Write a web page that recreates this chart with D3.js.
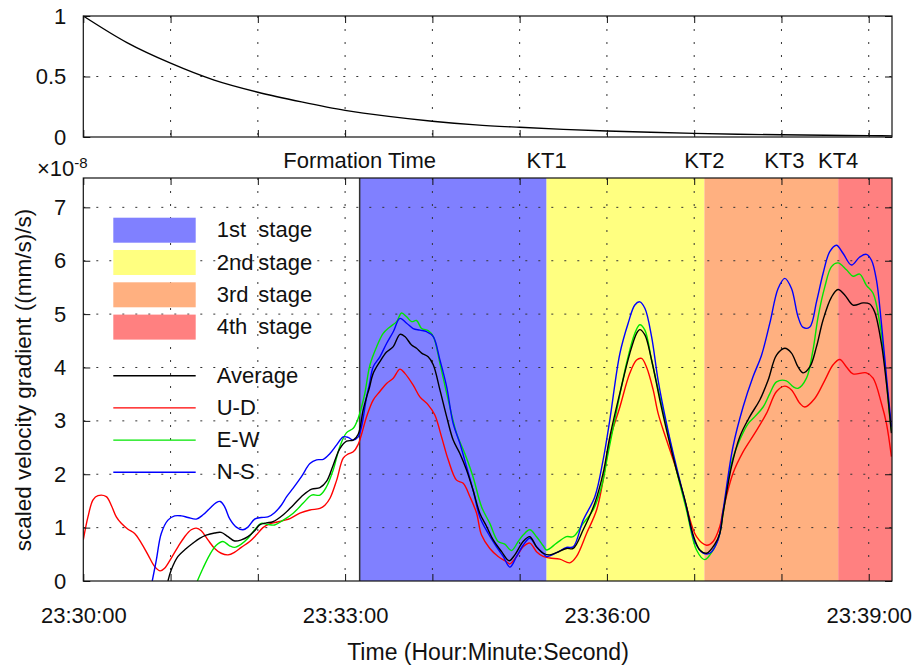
<!DOCTYPE html>
<html>
<head>
<meta charset="utf-8">
<script src="https://cdn.jsdelivr.net/npm/d3@7"></script>
<style>
body { margin: 0; background: #fff; }
text { font-family: "Liberation Sans", Arial, sans-serif; fill: #111; }
</style>
</head>
<body>
<script>
// time in seconds after 23:30:00
var timeTicks = [0, 180, 360, 540];
var timeLabels = ['23:30:00', '23:33:00', '23:36:00', '23:39:00'];
var minuteTicks = [0, 60, 120, 180, 240, 300, 360, 420, 480, 540];

var eventLabels = ['Formation Time', 'KT1', 'KT2', 'KT3', 'KT4'];
var eventTimes = [190, 318.5, 427, 482, 519];

var stageNames = ['1st', '2nd', '3rd', '4th'];
var stageStart = [190, 318.5, 427, 519];
var stageEnd = [318.5, 427, 519, 556];

var decayTimes = [0, 30, 60, 90, 120, 150, 180, 210, 240, 270, 300, 330, 360, 390, 420, 450, 480, 510, 540, 556];
var decayValues = [1, 0.78, 0.61, 0.47, 0.37, 0.29, 0.22, 0.17, 0.13, 0.10, 0.08, 0.063, 0.05, 0.039, 0.03, 0.023, 0.018, 0.014, 0.011, 0.009];

var seriesNames = ['Average', 'U-D', 'E-W', 'N-S'];

var avgSeries = [[58.2,0],[60.5,0.21],[65.1,0.46],[70.8,0.61],[75.4,0.71],[80.0,0.80],[84.5,0.86],[90.3,0.90],[94.8,0.91],[99.5,0.83],[104.1,0.75],[108.6,0.77],[113.2,0.83],[117.8,0.94],[121.2,1.05],[125.8,1.09],[130.4,1.11],[137.5,1.24],[144.3,1.42],[151.2,1.61],[157.0,1.72],[162.7,1.75],[167.3,1.87],[171.8,2.17],[176.4,2.48],[181.0,2.62],[185.6,2.64],[189.0,2.75],[192.4,3.2],[194.8,3.45],[196.6,3.61],[199.3,3.89],[203.9,4.11],[208.5,4.29],[213.1,4.39],[217.7,4.62],[221.1,4.58],[225.7,4.42],[229.1,4.36],[232.6,4.27],[237.1,4.20],[240.6,4.05],[245.2,3.58],[249.8,3.08],[254.3,2.64],[258.9,2.39],[263.5,2.08],[268.0,1.70],[272.6,1.27],[277.3,1.02],[281.8,0.77],[287.6,0.55],[292.8,0.38],[296.7,0.49],[302.4,0.74],[307.0,0.83],[311.6,0.64],[316.2,0.52],[320.8,0.49],[325.4,0.53],[332.2,0.61],[336.8,0.61],[343.7,0.96],[351.7,1.46],[357.4,2.02],[362.0,2.70],[368.9,3.52],[375.7,4.26],[380.4,4.64],[382.6,4.71],[386.1,4.61],[390.7,4.14],[396.4,3.39],[402.1,2.70],[407.8,2.08],[413.6,1.52],[419.3,0.86],[423.9,0.58],[428.5,0.52],[434.2,0.69],[437.6,0.89],[439.9,1.27],[445.6,2.14],[451.3,2.70],[458.2,3.08],[465.1,3.39],[470.8,3.76],[476.6,4.23],[482.3,4.36],[486.9,4.27],[491.4,4.01],[494.9,3.90],[499.5,4.01],[504.1,4.39],[508.6,4.89],[514.4,5.32],[518.9,5.46],[523.5,5.36],[529.2,5.17],[536.1,5.21],[540.7,5.19],[544.1,5.04],[548.7,4.45],[552.2,3.70],[555.6,2.77]];

var udSeries = [[0,0.77],[3.2,1.20],[6.7,1.52],[10.1,1.60],[15.8,1.58],[19.2,1.42],[22.7,1.20],[26.1,1.08],[30.7,0.97],[35.3,0.89],[39.9,0.71],[44.5,0.49],[49.1,0.27],[52.9,0.19],[55.9,0.24],[60.5,0.43],[65.1,0.64],[69.7,0.83],[74.2,0.96],[77.7,0.99],[81.1,0.94],[85.7,0.77],[90.3,0.61],[94.8,0.52],[99.5,0.49],[104.1,0.54],[108.6,0.63],[114.4,0.74],[118.9,0.86],[123.5,1.0],[128.1,1.07],[132.6,1.10],[142.1,1.17],[148.9,1.27],[155.8,1.33],[162.7,1.36],[166.1,1.42],[169.6,1.55],[174.2,1.89],[178.7,2.3],[182.1,2.38],[185.6,2.42],[189.0,2.56],[194.8,3.08],[199.3,3.39],[203.9,3.55],[208.5,3.70],[213.1,3.80],[217.7,3.97],[221.1,3.89],[226.8,3.67],[231.4,3.45],[237.1,3.30],[241.7,3.11],[246.3,2.70],[250.9,2.27],[256.6,1.89],[261.2,1.83],[265.8,1.58],[270.4,1.27],[273.8,0.86],[279.5,0.61],[285.2,0.46],[291.0,0.36],[293.3,0.32],[297.9,0.46],[302.4,0.64],[307.0,0.71],[311.6,0.55],[316.2,0.46],[320.8,0.43],[327.6,0.41],[334.5,0.34],[339.1,0.46],[346.0,0.89],[352.9,1.33],[357.4,1.89],[362.0,2.64],[368.9,3.26],[375.7,3.89],[380.4,4.14],[383.8,4.17],[387.2,4.01],[391.8,3.58],[395.2,3.14],[401.0,2.64],[407.8,2.08],[414.7,1.39],[421.6,0.83],[428.5,0.67],[433.0,0.74],[437.6,1.02],[439.9,1.33],[446.7,2.02],[453.6,2.42],[461.7,2.77],[469.7,3.14],[476.6,3.55],[482.3,3.65],[486.9,3.58],[492.6,3.33],[496.0,3.26],[502.9,3.42],[509.8,3.76],[515.5,4.05],[520.1,4.15],[524.7,4.01],[529.2,3.88],[538.4,3.90],[543.0,3.80],[548.7,3.33],[552.2,2.95],[555.6,2.33]];

var ewSeries = [[78.4,0],[82.3,0.24],[86.9,0.49],[91.4,0.67],[96.0,0.74],[100.6,0.66],[104.1,0.63],[108.6,0.69],[113.2,0.80],[117.8,0.96],[122.3,1.08],[126.9,1.06],[131.5,1.05],[137.5,1.14],[144.3,1.27],[151.2,1.46],[157.0,1.61],[162.7,1.61],[167.3,1.77],[171.8,2.08],[176.4,2.52],[181.0,2.78],[185.6,2.86],[189.0,3.05],[191.3,3.26],[193.6,3.52],[197.1,4.05],[201.7,4.39],[206.2,4.64],[210.8,4.76],[215.4,4.86],[218.8,5.02],[222.3,4.95],[225.7,4.86],[229.1,4.88],[232.6,4.73],[237.1,4.69],[240.6,4.58],[245.2,4.08],[250.9,3.39],[256.6,2.77],[262.3,2.39],[268.0,1.95],[273.8,1.39],[279.5,1.08],[285.2,0.74],[289.8,0.69],[294.4,0.57],[299.0,0.74],[302.4,0.86],[307.0,0.96],[311.6,0.83],[316.2,0.66],[318.5,0.58],[325.4,0.71],[332.2,0.83],[336.8,0.83],[343.7,1.08],[350.5,1.33],[356.3,1.77],[360.8,2.39],[367.7,3.33],[373.5,4.08],[379.2,4.64],[382.6,4.80],[386.1,4.70],[390.7,4.14],[396.4,3.45],[402.1,2.77],[407.8,2.08],[414.7,1.33],[421.6,0.58],[427.3,0.40],[433.0,0.58],[437.6,0.89],[439.9,1.27],[445.6,2.20],[451.3,2.64],[457.1,2.95],[461.7,3.08],[467.4,3.26],[472.0,3.51],[476.6,3.73],[483.4,3.75],[488.0,3.64],[491.4,3.61],[497.2,3.80],[501.7,4.33],[505.2,4.95],[509.8,5.51],[514.4,5.89],[518.9,5.96],[524.7,5.83],[529.2,5.71],[533.8,5.75],[538.4,5.54],[543.0,5.39],[547.6,4.83],[551.0,4.08],[554.4,3.08],[555.9,2.77]];

var nsSeries = [[47.4,0],[50.2,0.39],[53.6,0.89],[58.2,1.14],[62.8,1.22],[67.4,1.22],[72.0,1.19],[77.7,1.16],[82.3,1.24],[86.9,1.36],[91.4,1.47],[94.2,1.49],[97.2,1.39],[100.6,1.17],[105.2,1.01],[109.8,0.96],[113.2,1.01],[117.8,1.16],[122.3,1.19],[126.9,1.20],[131.5,1.28],[136.1,1.42],[139.8,1.58],[144.3,1.74],[150.1,1.96],[155.8,2.20],[160.4,2.27],[165.0,2.28],[169.6,2.39],[174.2,2.55],[178.7,2.70],[182.1,2.69],[185.6,2.64],[189.0,2.70],[191.3,2.89],[194.8,3.45],[196.6,3.67],[199.3,4.01],[203.9,4.20],[208.5,4.45],[213.1,4.67],[217.7,4.92],[222.3,4.83],[226.8,4.73],[231.4,4.70],[236.0,4.67],[240.6,4.58],[245.2,4.14],[249.8,3.64],[254.3,2.95],[258.9,2.58],[263.5,2.14],[268.0,1.70],[272.6,1.20],[278.4,0.89],[284.1,0.64],[288.7,0.46],[293.3,0.26],[297.9,0.46],[302.4,0.67],[307.0,0.80],[311.6,0.64],[316.2,0.52],[318.5,0.46],[325.4,0.53],[332.2,0.63],[336.8,0.64],[343.7,1.14],[351.7,1.58],[357.4,2.27],[362.0,3.02],[368.9,4.26],[374.6,4.83],[379.2,5.17],[382.6,5.23],[386.1,5.11],[390.7,4.58],[395.2,3.76],[401.0,2.95],[407.8,2.14],[414.7,1.39],[420.4,0.74],[426.1,0.52],[430.7,0.52],[436.4,0.77],[439.9,1.33],[446.7,2.52],[453.6,3.26],[460.5,3.83],[466.3,4.23],[472.0,4.83],[477.7,5.48],[482.3,5.67],[486.9,5.48],[491.4,4.95],[494.9,4.75],[499.5,4.76],[504.1,5.23],[508.6,5.76],[513.2,6.17],[517.8,6.29],[522.3,6.14],[528.1,5.92],[533.8,6.07],[538.4,6.12],[541.9,6.01],[545.3,5.64],[548.7,4.83],[552.2,3.83],[555.6,2.89]];

var stageColors = ['#8080ff', '#ffff80', '#ffb080', '#ff8080'];
var lineColors = ['#000000', '#ff0000', '#00e600', '#0000ff'];

var W = 913, H = 667;
var left = 83.3, right = 892;
var svg = d3.select('body').append('svg').attr('width', W).attr('height', H);

var x = d3.scaleLinear().domain([0, 556]).range([left, right]);
var yTop = d3.scaleLinear().domain([0, 1]).range([137, 16]);
var yBot = d3.scaleLinear().domain([0, 7.55]).range([581, 178]);

function styleAxis(g) {
    g.select('.domain').remove();
    g.attr('font-family', null).attr('font-size', null);
    g.selectAll('.tick line').attr('stroke', '#111');
    g.selectAll('.tick text').attr('font-size', 22).attr('fill', '#111');
}

function grid(g, y, yVals) {
    var top = y.range()[1], bot = y.range()[0];
    g.selectAll('line.vg').data(minuteTicks.slice(1)).enter().append('line')
        .attr('x1', function(d){return x(d);}).attr('x2', function(d){return x(d);})
        .attr('y1', top).attr('y2', bot)
        .attr('stroke', '#333').attr('stroke-dasharray', '2,11');
    g.selectAll('line.hg').data(yVals).enter().append('line')
        .attr('x1', left).attr('x2', right)
        .attr('y1', function(d){return y(d);}).attr('y2', function(d){return y(d);})
        .attr('stroke', '#333').attr('stroke-dasharray', '2,11');
}

function frame(y, yVals, fmt) {
    var top = y.range()[1], bot = y.range()[0];
    svg.append('g').attr('transform', 'translate(0,' + bot + ')')
        .call(d3.axisBottom(x).tickValues(minuteTicks).tickSize(-7).tickFormat('')).call(styleAxis);
    svg.append('g').attr('transform', 'translate(0,' + top + ')')
        .call(d3.axisTop(x).tickValues(minuteTicks).tickSize(-7).tickFormat('')).call(styleAxis);
    svg.append('g').attr('transform', 'translate(' + left + ',0)')
        .call(d3.axisLeft(y).tickValues(yVals).tickSize(-7).tickPadding(17).tickFormat(fmt)).call(styleAxis);
    svg.append('g').attr('transform', 'translate(' + right + ',0)')
        .call(d3.axisRight(y).tickValues(yVals).tickSize(-7).tickFormat('')).call(styleAxis);
    svg.append('rect').attr('x', left).attr('y', top).attr('width', right - left).attr('height', bot - top)
        .attr('fill', 'none').attr('stroke', '#111').attr('stroke-width', 1.2);
}

// ---- top panel
var topVals = [0, 0.5, 1];
grid(svg.append('g'), yTop, [0.5]);
var decayLine = d3.line()
    .x(function(d, i){return x(decayTimes[i]);})
    .y(function(d){return yTop(d);})
    .curve(d3.curveMonotoneX);
svg.append('path').attr('d', decayLine(decayValues))
    .attr('fill', 'none').attr('stroke', '#000').attr('stroke-width', 1.4);
frame(yTop, topVals, function(d){return d === 0.5 ? '0.5' : d3.format('d')(d);});

// ---- bottom panel
var bot = svg.append('g');
bot.selectAll('rect.stage').data(stageNames).enter().append('rect')
    .attr('x', function(d, i){return x(stageStart[i]);})
    .attr('width', function(d, i){return x(stageEnd[i]) - x(stageStart[i]);})
    .attr('y', yBot(7.55)).attr('height', yBot(0) - yBot(7.55))
    .attr('fill', function(d, i){return stageColors[i];});

var botVals = [0, 1, 2, 3, 4, 5, 6, 7];
grid(bot, yBot, botVals.slice(1));

bot.append('line')
    .attr('x1', x(eventTimes[0])).attr('x2', x(eventTimes[0]))
    .attr('y1', yBot(7.55)).attr('y2', yBot(0))
    .attr('stroke', '#333').attr('stroke-width', 1.5);

svg.append('clipPath').attr('id', 'clip').append('rect')
    .attr('x', left).attr('y', yBot(7.55)).attr('width', right - left).attr('height', yBot(0) - yBot(7.55));

var line = d3.line()
    .x(function(d){return x(d[0]);})
    .y(function(d){return yBot(d[1]);})
    .curve(d3.curveCatmullRom.alpha(0.5));

var allSeries = [avgSeries, udSeries, ewSeries, nsSeries];
var drawOrder = [1, 2, 3, 0];
var plot = svg.append('g').attr('clip-path', 'url(#clip)');
drawOrder.forEach(function(k) {
    plot.append('path').attr('d', line(allSeries[k]))
        .attr('fill', 'none').attr('stroke', lineColors[k]).attr('stroke-width', 1.4);
});

frame(yBot, botVals, d3.format('d'));

// x tick labels
svg.append('g').attr('transform', 'translate(0,581)')
    .call(d3.axisBottom(x).tickValues(timeTicks).tickSize(0).tickPadding(26)
        .tickFormat(function(d, i){return timeLabels[i];}))
    .call(styleAxis);

// event labels
svg.selectAll('text.ev').data(eventLabels).enter().append('text')
    .attr('x', function(d, i){return x(eventTimes[i]);}).attr('y', 168)
    .attr('text-anchor', 'middle').attr('font-size', 22).text(function(d){return d;});

// legend
var lg = svg.append('g');
stageNames.forEach(function(d, i) {
    var cy = 230.2 + i * 32.3;
    lg.append('rect').attr('x', 113.3).attr('y', cy - 12.5).attr('width', 82.4).attr('height', 25)
        .attr('fill', stageColors[i]);
    lg.append('text').attr('x', 216.7).attr('y', cy + 7).attr('font-size', 22).text(d);
    lg.append('text').attr('x', 258.3).attr('y', cy + 7).attr('font-size', 22).text('stage');
});
seriesNames.forEach(function(d, i) {
    var cy = 375.7 + i * 32.2;
    lg.append('line').attr('x1', 113.3).attr('x2', 195.7).attr('y1', cy).attr('y2', cy)
        .attr('stroke', lineColors[i]).attr('stroke-width', 1.4);
    lg.append('text').attr('x', 216.7).attr('y', cy + 7).attr('font-size', 22).text(d);
});

// multiplier
var mult = svg.append('text').attr('x', 37).attr('y', 176).attr('font-size', 22);
mult.append('tspan').text('\u00d710');
mult.append('tspan').attr('font-size', 15).attr('dy', -8).text('-8');

// axis titles
svg.append('text').attr('transform', 'translate(31,380) rotate(-90)')
    .attr('text-anchor', 'middle').attr('font-size', 22.5)
    .text('scaled velocity gradient ((mm/s)/s)');
svg.append('text').attr('x', 488).attr('y', 660).attr('text-anchor', 'middle').attr('font-size', 23)
    .text('Time (Hour:Minute:Second)');
</script>
</body>
</html>
